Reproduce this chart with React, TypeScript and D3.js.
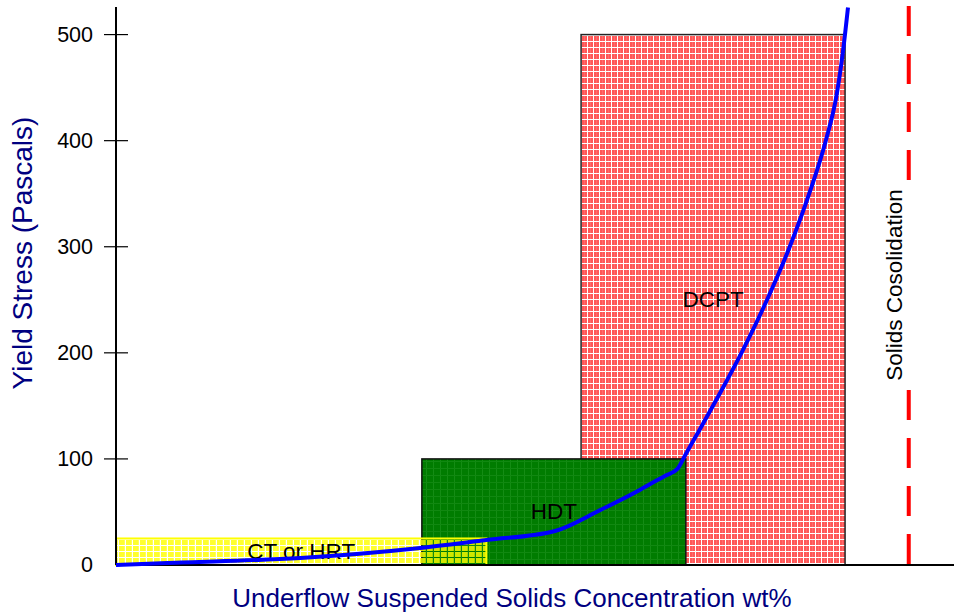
import React, { useEffect, useRef } from 'react';
import * as d3 from 'd3';

// zones (x in wt%, arbitrary 0-100 scale, y in Pascals)
const zoneNames = ['DCPT', 'HDT', 'CT or HRT'];
const zoneStart = [55.5, 36.5, 0];
const zoneEnd = [87.0, 68.0, 44.2];
const zoneTop = [500, 100, 25];
const zoneFill = ['url(#redPat)', 'url(#greenPat)', 'url(#yellowPat)'];
const zoneStroke = ['#222', '#111', '#ffff00'];

// yield stress curve
const curveX = [0, 6.1, 22.0, 36.3, 44.2, 52.4, 57.8, 62.5, 65.5, 67.0, 68.0, 69.7, 72.1, 74.7, 77.8, 80.4, 82.8, 84.7, 86.0, 86.75, 87.35];
const curveY = [0, 1.9, 6.6, 16.0, 23.6, 32.1, 51.9, 70.8, 84.0, 90.6, 104.7, 128.3, 162.3, 200.9, 251.9, 300.0, 351.9, 400.0, 443.4, 484.0, 525.5];

const yTicks = [0, 100, 200, 300, 400, 500];
const consolidationX = 94.6;

const W = 954;
const H = 612;
const FONT = 'Liberation Sans, Arial, sans-serif';

const App = () => {
  const svgRef = useRef<SVGSVGElement>(null);

  useEffect(() => {
    const svg = d3.select(svgRef.current);
    svg.selectAll('*').remove();

    const x = d3.scaleLinear().domain([0, 100]).range([116, 954]);
    const y = d3.scaleLinear().domain([0, 526]).range([565, 7]);

    const defs = svg.append('defs');

    const red = defs.append('pattern').attr('id', 'redPat')
      .attr('patternUnits', 'userSpaceOnUse').attr('width', 6).attr('height', 6);
    red.append('rect').attr('width', 6).attr('height', 6).attr('fill', '#fff');
    red.append('rect').attr('width', 5).attr('height', 5).attr('fill', 'rgba(255,0,0,0.66)');
    red.append('rect').attr('x', 2).attr('width', 1).attr('height', 5).attr('fill', 'rgba(255,255,255,0.12)');

    const green = defs.append('pattern').attr('id', 'greenPat')
      .attr('patternUnits', 'userSpaceOnUse').attr('width', 7).attr('height', 7);
    green.append('rect').attr('width', 7).attr('height', 7).attr('fill', '#007c00');
    green.append('rect').attr('x', 6).attr('width', 1).attr('height', 7).attr('fill', '#148c14');
    green.append('rect').attr('y', 6).attr('width', 7).attr('height', 1).attr('fill', '#118811');

    const yellow = defs.append('pattern').attr('id', 'yellowPat')
      .attr('patternUnits', 'userSpaceOnUse').attr('width', 7).attr('height', 6);
    yellow.append('rect').attr('width', 5.8).attr('height', 5).attr('fill', 'rgba(255,255,0,0.82)');

    // zone boxes
    zoneNames.forEach((name, i) => {
      svg.append('rect')
        .attr('x', x(zoneStart[i]))
        .attr('y', y(zoneTop[i]))
        .attr('width', x(zoneEnd[i]) - x(zoneStart[i]))
        .attr('height', y(0) - y(zoneTop[i]))
        .attr('fill', zoneFill[i])
        .attr('stroke', zoneStroke[i])
        .attr('stroke-width', i === 2 ? 2 : 1.5);
    });

    zoneNames.forEach((name, i) => {
      svg.append('text')
        .attr('x', x((zoneStart[i] + zoneEnd[i]) / 2))
        .attr('y', y(zoneTop[i] / 2))
        .attr('text-anchor', 'middle')
        .attr('dominant-baseline', 'central')
        .attr('font-family', FONT)
        .attr('font-size', 22.5)
        .attr('fill', '#000')
        .text(name);
    });

    // consolidation dashed line with masked label
    const cx = x(consolidationX);
    svg.append('line')
      .attr('x1', cx).attr('x2', cx)
      .attr('y1', 6).attr('y2', y(0))
      .attr('stroke', '#ff0000')
      .attr('stroke-width', 4)
      .attr('stroke-dasharray', '30,18');
    svg.append('rect')
      .attr('x', cx - 30).attr('y', 182)
      .attr('width', 40).attr('height', 206)
      .attr('fill', '#fff');
    svg.append('text')
      .attr('transform', `translate(${cx - 14},285) rotate(-90)`)
      .attr('text-anchor', 'middle')
      .attr('dominant-baseline', 'central')
      .attr('font-family', FONT)
      .attr('font-size', 22.5)
      .text('Solids Cosolidation');

    // axes
    svg.append('line')
      .attr('x1', x(0)).attr('x2', W)
      .attr('y1', y(0)).attr('y2', y(0))
      .attr('stroke', '#000').attr('stroke-width', 2);
    svg.append('line')
      .attr('x1', x(0)).attr('x2', x(0))
      .attr('y1', 7).attr('y2', y(0))
      .attr('stroke', '#000').attr('stroke-width', 2);

    yTicks.forEach(t => {
      if (t > 0) {
        svg.append('line')
          .attr('x1', x(0) - 12).attr('x2', x(0) + 12)
          .attr('y1', y(t)).attr('y2', y(t))
          .attr('stroke', '#000').attr('stroke-width', 1.2);
      }
      svg.append('text')
        .attr('x', 93).attr('y', y(t))
        .attr('text-anchor', 'end')
        .attr('dominant-baseline', 'central')
        .attr('font-family', FONT)
        .attr('font-size', 21.5)
        .text(t);
    });

    // curve
    const line = d3.line<number>()
      .x((d, i) => x(curveX[i]))
      .y(d => y(d))
      .curve(d3.curveMonotoneX);
    svg.append('path')
      .attr('d', line(curveY))
      .attr('fill', 'none')
      .attr('stroke', '#0000ff')
      .attr('stroke-width', 4)
      .attr('stroke-linejoin', 'round');

    // titles
    svg.append('text')
      .attr('x', (232 + 792) / 2).attr('y', 598)
      .attr('text-anchor', 'middle')
      .attr('dominant-baseline', 'central')
      .attr('font-family', FONT)
      .attr('font-size', 26)
      .attr('fill', '#000080')
      .text('Underflow Suspended Solids Concentration wt%');
    svg.append('text')
      .attr('transform', 'translate(22,253) rotate(-90)')
      .attr('text-anchor', 'middle')
      .attr('dominant-baseline', 'central')
      .attr('font-family', FONT)
      .attr('font-size', 28)
      .attr('fill', '#000080')
      .text('Yield Stress (Pascals)');
  }, []);

  return (
    <svg ref={svgRef} width={W} height={H}
      style={{ position: 'absolute', left: 0, top: 0, background: '#fff' }} />
  );
};

export default App;
